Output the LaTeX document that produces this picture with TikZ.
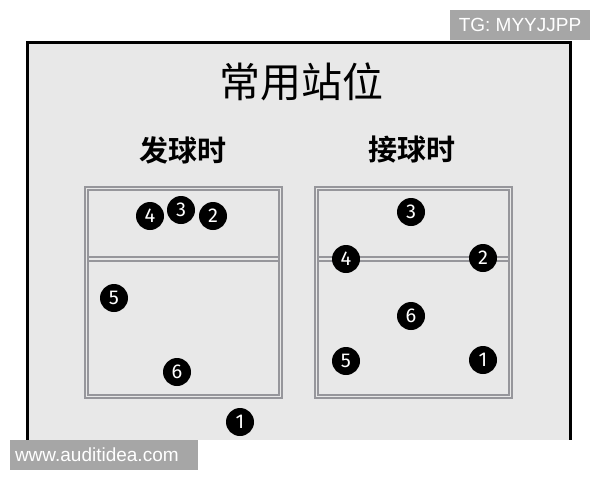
\documentclass[tikz,border=0pt]{standalone}
\usepackage{fontspec}
\setmainfont{Liberation Sans}
\newfontfamily\cjk{Noto Sans CJK SC}[BoldFont=* Bold]
\newfontfamily\numfont{Fira Sans}
\usetikzlibrary{positioning, calc}
\definecolor{panelgrey}{RGB}{232, 232, 232}
\definecolor{courtline}{RGB}{150, 150, 155}
\definecolor{markgrey}{RGB}{166, 166, 166}

\tikzset{
  player/.style={circle, fill=black, text=white, minimum size=28pt, inner sep=0pt, font=\numfont\fontsize{20}{20}\selectfont},
  courtbox/.style={draw=courtline, line width=1.2pt},
  heading/.style={font=\cjk\bfseries\fontsize{29}{29}\selectfont},
  watermark/.style={fill=markgrey, text=white, inner sep=0pt, font=\fontsize{19}{19}\selectfont}
}

\begin{document}
\begin{tikzpicture}[x=1pt, y=-1pt]
  \useasboundingbox (0,0) rectangle (600,480);
  \fill[white] (0,0) rectangle (600,480);

  % outer panel
  \fill[panelgrey] (27,42) rectangle (570,440);
  \draw[black, line width=3pt] (27,440) -- (27,42) -- (570,42) -- (570,440);

  \node[font=\cjk\fontsize{41}{41}\selectfont] (title) at (301,82) {常用站位};
  \node[heading] (serve) at (183,150) {发球时};
  \node[heading] (receive) at (412,150) {接球时};

  % courts (double lines)
  \foreach \cx in {85, 315} {
    \draw[courtbox] (\cx,187) rectangle ++(197,211);
    \draw[courtbox] (\cx+3,190) rectangle ++(191,205);
    \draw[courtbox] (\cx+3,257) -- ++(191,0);
    \draw[courtbox] (\cx+3,261) -- ++(191,0);
  }

  % serving positions
  \node[player] (s4) at (150,216) {4};
  \node[player] (s3) at (181,210) {3};
  \node[player] (s2) at (213,216) {2};
  \node[player] (s5) at (114,298) {5};
  \node[player] (s6) at (177,372) {6};
  \node[player] (s1) at (240,422) {1};

  % receiving positions
  \node[player] (r3) at (411,212) {3};
  \node[player] (r4) at (346,259) {4};
  \node[player] (r2) at (483,258) {2};
  \node[player] (r6) at (411,316) {6};
  \node[player] (r5) at (346,361) {5};
  \node[player] (r1) at (483,360) {1};

  % watermarks
  \node[watermark, minimum width=140pt, minimum height=30pt] (tg) at (520,25) {TG: MYYJJPP};
  \node[watermark, minimum width=188pt, minimum height=30pt, align=left, text width=178pt] (site) at (104,455) {www.auditidea.com};
\end{tikzpicture}
\end{document}
